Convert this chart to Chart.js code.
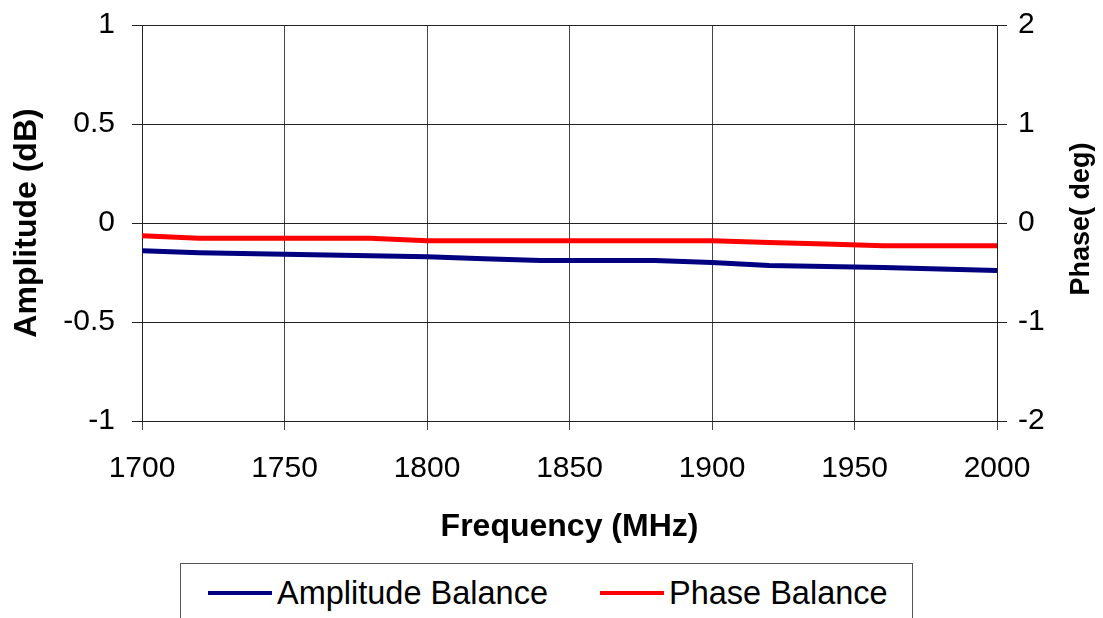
<!DOCTYPE html>
<html>
<head>
<meta charset="utf-8">
<script src="https://cdn.jsdelivr.net/npm/chart.js@4/dist/chart.umd.min.js"></script>
<style>
  body { margin: 0; background: #fff; }
  #wrap { position: relative; width: 1103px; height: 618px; overflow: hidden; }
  #legend {
    position: absolute; left: 180px; top: 563px; width: 731px; height: 80px;
    border: 1px solid #555; background: #fff;
    font-family: "Liberation Sans", Arial, sans-serif; font-size: 32.5px; color: #000;
  }
  .item { position: absolute; top: 11px; height: 36px; line-height: 36px; white-space: nowrap; }
  .swatch { display: inline-block; width: 64px; height: 4px; vertical-align: middle; margin-right: 5px; position: relative; top: -2px; }
</style>
</head>
<body>
<div id="wrap">
  <canvas id="chart1" width="1103" height="618"></canvas>
  <div id="legend">
    <div class="item" style="left:27px"><span class="swatch" style="background:#000080"></span>Amplitude Balance</div>
    <div class="item" style="left:419px"><span class="swatch" style="background:#ff0000"></span>Phase Balance</div>
  </div>
</div>
<script>
// values
var freqs = [1700, 1720, 1740, 1760, 1780, 1800, 1820, 1840, 1860, 1880, 1900, 1920, 1940, 1960, 1980, 2000];
var amplitude = [-0.14, -0.15, -0.155, -0.16, -0.165, -0.17, -0.18, -0.19, -0.19, -0.19, -0.2, -0.215, -0.22, -0.225, -0.232, -0.24];
var phase = [-0.13, -0.155, -0.155, -0.155, -0.155, -0.18, -0.18, -0.18, -0.18, -0.18, -0.18, -0.197, -0.213, -0.23, -0.23, -0.23];

var freqTicks = [1700, 1750, 1800, 1850, 1900, 1950, 2000];
var ampTicks = [-1, -0.5, 0, 0.5, 1];
var phaseTicks = [-2, -1, 0, 1, 2];

function points(ys) {
    return freqs.map(function (f, i) { return { x: f, y: ys[i] }; });
}
function setTicks(arr) {
    return function (scale) {
        scale.ticks = arr.map(function (v) { return { value: v }; });
    };
}
function fixWidth(w) {
    return function (s) {
        s.width = w;
        s.paddingTop = 0; // let layout.padding decide where the plot starts
        s.paddingBottom = 0;
    };
}
function plain(v) { return String(v); }

var tickFont = { family: 'Liberation Sans', size: 30 };
var titleFont = { family: 'Liberation Sans', size: 32, weight: 'bold' };

// right axis title reads bottom-to-top, so draw it ourselves
var rightTitle = {
    id: 'rightTitle',
    afterDraw: function (chart) {
        var ctx = chart.ctx;
        ctx.save();
        ctx.translate(1082, 219);
        ctx.rotate(-Math.PI / 2);
        ctx.font = 'bold 27px "Liberation Sans"';
        ctx.fillStyle = '#000';
        ctx.textAlign = 'center';
        ctx.textBaseline = 'middle';
        ctx.fillText('Phase( deg)', 0, 0);
        ctx.restore();
    }
};

var ctx = document.getElementById('chart1').getContext('2d');
var myChart = new Chart(ctx, {
    type: 'line',
    data: {
        datasets: [{
            label: 'Amplitude Balance',
            data: points(amplitude),
            borderColor: '#000080',
            borderWidth: 5,
            pointRadius: 0,
            yAxisID: 'y',
        }, {
            label: 'Phase Balance',
            data: points(phase),
            borderColor: '#ff0000',
            borderWidth: 5,
            pointRadius: 0,
            yAxisID: 'y2',
        }]
    },
    options: {
        responsive: false,
        animation: false,
        layout: { padding: { left: 8, right: 2, top: 25, bottom: 72 } },
        plugins: {
            legend: { display: false },
            tooltip: { enabled: false },
        },
        scales: {
            x: {
                type: 'linear',
                min: 1700,
                max: 2000,
                afterBuildTicks: setTicks(freqTicks),
                afterFit: function (s) { s.height = 125; },
                grid: { color: '#444', tickLength: 9 },
                border: { color: '#222' },
                ticks: { font: tickFont, color: '#000', padding: 21, maxRotation: 0, callback: plain },
                title: { display: true, text: 'Frequency (MHz)', font: titleFont, color: '#000', padding: 0 },
            },
            y: {
                position: 'left',
                min: -1,
                max: 1,
                afterBuildTicks: setTicks(ampTicks),
                afterFit: fixWidth(134),
                grid: { color: '#222', tickLength: 10 },
                border: { color: '#222' },
                ticks: { font: tickFont, color: '#000', padding: 17, callback: plain },
                title: { display: true, text: 'Amplitude (dB)', font: titleFont, color: '#000', padding: 0 },
            },
            y2: {
                position: 'right',
                min: -2,
                max: 2,
                afterBuildTicks: setTicks(phaseTicks),
                afterFit: fixWidth(104),
                grid: { drawOnChartArea: false, color: '#222', tickLength: 10 },
                border: { color: '#222' },
                ticks: { font: tickFont, color: '#000', padding: 11, callback: plain },
            }
        }
    },
    plugins: [rightTitle]
});
</script>
</body>
</html>
